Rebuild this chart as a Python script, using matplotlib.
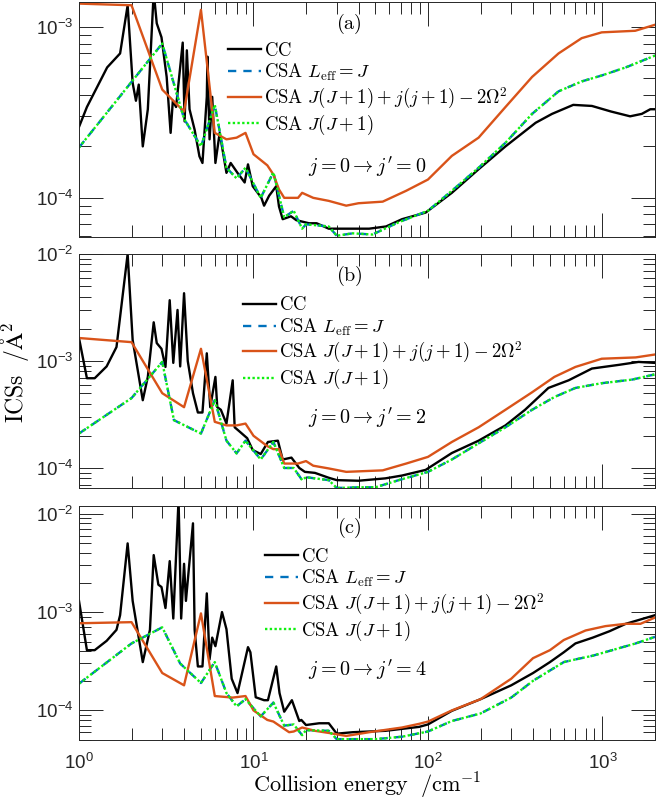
"""Three-panel log-log comparison of CC and CSA integral cross sections."""

import matplotlib

matplotlib.use("Agg")
import matplotlib.pyplot as plt
from matplotlib.font_manager import FontProperties
from matplotlib.ticker import LogLocator, LogFormatterSciNotation, NullFormatter

# ---- panel (a): j = 0 -> j' = 0 ----
cc_e_a = [1.0, 1.11, 1.45, 1.72, 1.9, 2.03, 2.12, 2.2, 2.32, 2.48, 2.68, 2.79, 2.97, 3.18,
          3.35, 3.45, 3.6, 3.93, 4.03, 4.15, 4.3, 4.6, 4.9, 5.1, 5.4, 5.45, 5.6, 5.8, 6.05,
          6.4, 7.0, 7.4, 8.1, 8.9, 9.3, 9.9, 11.1, 11.5, 12.3, 13.5, 14.0, 14.7, 16.4, 17.6,
          20.8, 23.0, 27, 34, 46, 57.5, 71, 97, 137, 195, 278, 414, 514, 680, 870, 1120,
          1440, 1680, 1880, 2000]
cc_a = [2.6e-4, 3.4e-4, 5.8e-4, 7.0e-4, 1.34e-3, 4.7e-4, 3.7e-4, 4.6e-4, 2.0e-4, 3.3e-4,
        1.6e-3, 1.05e-3, 8.7e-4, 5.1e-4, 2.4e-4, 3.7e-4, 3.4e-4, 8.1e-4, 2.8e-4, 7.3e-4,
        3.3e-4, 2.5e-4, 1.75e-4, 1.6e-4, 3.9e-4, 6.7e-4, 2.2e-4, 3.9e-4, 1.6e-4, 2.4e-4,
        1.4e-4, 1.6e-4, 1.4e-4, 1.23e-4, 1.57e-4, 1.17e-4, 1.0e-4, 9.0e-5, 1.03e-4, 1.17e-4,
        8.9e-5, 7.5e-5, 7.8e-5, 7.4e-5, 7.1e-5, 7.1e-5, 6.6e-5, 6.6e-5, 6.6e-5, 6.8e-5,
        7.5e-5, 8.2e-5, 1.07e-4, 1.47e-4, 2.0e-4, 2.75e-4, 3.1e-4, 3.5e-4, 3.45e-4, 3.2e-4,
        3.0e-4, 3.1e-4, 3.3e-4, 3.3e-4]
omega_e_a = [1, 2, 3, 4, 5, 6, 7, 8, 9, 10, 12, 13, 14, 15, 18, 19, 22, 27, 34, 40, 55, 75,
             100, 137, 195, 278, 395, 560, 760, 990, 1540, 2000]
omega_a = [1.37e-3, 1.34e-3, 4.3e-4, 3.2e-4, 1.26e-3, 2.4e-4, 2.2e-4, 2.25e-4, 2.4e-4, 1.8e-4,
           1.55e-4, 1.37e-4, 1.12e-4, 1.0e-4, 1.0e-4, 1.07e-4, 1.0e-4, 9.6e-5, 9.0e-5, 9.3e-5,
           9.5e-5, 1.1e-4, 1.28e-4, 1.76e-4, 2.25e-4, 3.4e-4, 5.1e-4, 7.0e-4, 8.6e-4, 9.3e-4,
           9.5e-4, 1.03e-3]
jj_e_a = [1, 3, 4, 5, 6, 7, 8, 9, 11, 13, 15, 17, 19, 20, 27, 30, 37, 48, 68, 100, 137, 195,
          278, 395, 560, 760, 990, 1360, 2000]
jj_a = [1.97e-4, 8.0e-4, 2.9e-4, 2.0e-4, 3.5e-4, 1.5e-4, 1.3e-4, 1.5e-4, 1.0e-4, 1.41e-4,
        7.7e-5, 8.4e-5, 6.6e-5, 7.0e-5, 6.8e-5, 6.0e-5, 6.2e-5, 6.1e-5, 7.2e-5, 8.4e-5,
        1.1e-4, 1.5e-4, 2.1e-4, 3.1e-4, 4.2e-4, 4.8e-4, 5.2e-4, 5.8e-4, 6.8e-4]
# CSA L_eff = J lies on top of CSA J(J+1) everywhere
leff_e_a, leff_a = jj_e_a, jj_a

# ---- panel (b): j = 0 -> j' = 2 ----
cc_e_b = [1.0, 1.11, 1.23, 1.44, 1.64, 1.9, 2.03, 2.32, 2.48, 2.68, 2.79, 2.97, 3.13, 3.31,
          3.47, 3.67, 3.8, 4.0, 4.2, 4.5, 4.8, 5.1, 5.4, 5.65, 6.05, 6.2, 6.5, 7.0, 7.6, 7.8,
          8.3, 9.2, 9.9, 11, 12.1, 13.8, 14.7, 16.5, 18.3, 19.7, 22.5, 27, 30, 40, 57, 71, 97,
          137, 195, 278, 360, 490, 640, 870, 1240, 1610, 2000]
cc_b = [1.64e-3, 6.9e-4, 6.9e-4, 8.9e-4, 1.35e-3, 1.0e-2, 1.57e-3, 4.3e-4, 7.1e-4, 2.3e-3,
        1.47e-3, 1.3e-3, 8.8e-4, 3.7e-3, 9.6e-4, 3.0e-3, 8.9e-4, 4.3e-3, 1.0e-3, 5.0e-4,
        3.3e-4, 3.3e-4, 1.18e-3, 3.7e-4, 7.1e-4, 3.7e-4, 3.5e-4, 2.6e-4, 6.6e-4, 2.4e-4,
        2.2e-4, 1.9e-4, 1.47e-4, 1.35e-4, 1.75e-4, 1.8e-4, 1.2e-4, 1.25e-4, 1.0e-4, 9.2e-5,
        9.0e-5, 8.1e-5, 7.7e-5, 7.6e-5, 8.0e-5, 8.5e-5, 9.6e-5, 1.38e-4, 1.8e-4, 2.5e-4,
        3.5e-4, 5.6e-4, 6.6e-4, 8.5e-4, 9.2e-4, 9.8e-4, 9.6e-4]
omega_e_b = [1, 2, 3, 4, 5, 6, 7, 8, 9, 10, 12, 13, 14, 15, 18, 20, 22, 27, 34, 55, 75, 100,
             137, 195, 278, 395, 530, 700, 990, 1550, 2000]
omega_b = [1.64e-3, 1.5e-3, 5.0e-4, 3.7e-4, 1.3e-3, 2.7e-4, 2.5e-4, 2.5e-4, 2.6e-4, 2.0e-4,
           1.6e-4, 1.5e-4, 1.5e-4, 1.1e-4, 1.1e-4, 1.16e-4, 1.05e-4, 9.9e-5, 9.2e-5, 9.5e-5,
           1.1e-4, 1.27e-4, 1.75e-4, 2.4e-4, 3.5e-4, 5.1e-4, 7.1e-4, 8.8e-4, 1.05e-3, 1.08e-3,
           1.15e-3]
jj_e_b = [1, 2, 3, 3.5, 5, 6, 7, 8, 9, 11, 13, 15, 17, 19, 20, 27, 30, 40, 50, 68, 100, 137,
          195, 278, 395, 530, 700, 990, 1480, 2000]
jj_b = [2.1e-4, 4.5e-4, 9.8e-4, 2.8e-4, 2.1e-4, 4.3e-4, 1.8e-4, 1.37e-4, 1.8e-4, 1.2e-4,
        1.75e-4, 1.0e-4, 1.0e-4, 7.7e-5, 8.2e-5, 7.7e-5, 6.5e-5, 6.6e-5, 6.6e-5, 7.7e-5,
        9.2e-5, 1.2e-4, 1.7e-4, 2.4e-4, 3.5e-4, 4.6e-4, 5.6e-4, 6.2e-4, 6.7e-4, 7.5e-4]
leff_e_b, leff_b = jj_e_b, jj_b

# ---- panel (c): j = 0 -> j' = 4 ----
cc_e_c = [1.0, 1.11, 1.23, 1.44, 1.64, 1.72, 1.9, 2.03, 2.32, 2.55, 2.68, 2.85, 2.97, 3.13,
          3.31, 3.47, 3.72, 3.85, 4.0, 4.1, 4.5, 4.6, 4.8, 5.1, 5.4, 5.6, 5.8, 6.05, 6.6, 7.0,
          7.5, 8.1, 9.3, 9.6, 10.3, 11.5, 12.1, 13.5, 14.1, 15, 16.6, 18.3, 18.8, 20, 23.8,
          27, 30, 37, 57, 89, 100, 137, 200, 300, 400, 500, 600, 700, 880, 1100, 1360, 2000]
cc_c = [1.3e-3, 4.1e-4, 4.1e-4, 5.1e-4, 6.6e-4, 9.3e-4, 5.0e-3, 1.3e-3, 3.1e-4, 6.6e-4,
        3.8e-3, 1.9e-3, 1.8e-3, 1.1e-3, 3.3e-3, 8.6e-4, 1.4e-2, 8.6e-4, 3.1e-3, 1.3e-3,
        8.0e-3, 6.6e-4, 2.8e-4, 2.8e-4, 1.55e-3, 3.3e-4, 5.5e-4, 4.5e-4, 1.0e-3, 6.7e-4,
        2.1e-4, 1.5e-4, 4.4e-4, 3.9e-4, 1.36e-4, 1.27e-4, 1.27e-4, 2.8e-4, 1.5e-4, 9.7e-5,
        1.27e-4, 7.8e-5, 8.0e-5, 7.1e-5, 7.4e-5, 7.4e-5, 5.8e-5, 6.0e-5, 6.2e-5, 6.8e-5,
        7.2e-5, 9.9e-5, 1.3e-4, 1.8e-4, 2.4e-4, 3.1e-4, 3.9e-4, 4.8e-4, 5.5e-4, 6.4e-4,
        7.6e-4, 9.3e-4]
omega_e_c = [1, 2, 3, 4, 5, 6, 7.6, 9, 10, 12, 13, 16, 17, 19, 22.5, 27, 34, 46, 71, 89, 100,
             137, 200, 300, 400, 500, 600, 800, 1040, 1360, 1650, 2000]
omega_c = [7.7e-4, 7.9e-4, 2.4e-4, 1.8e-4, 9.7e-4, 1.4e-4, 1.35e-4, 1.4e-4, 1.0e-4, 8.0e-5,
           7.7e-5, 6.0e-5, 6.1e-5, 6.7e-5, 6.2e-5, 5.9e-5, 5.5e-5, 6.0e-5, 6.7e-5, 7.3e-5,
           7.7e-5, 1.0e-4, 1.3e-4, 2.1e-4, 3.4e-4, 4.1e-4, 5.2e-4, 6.5e-4, 7.2e-4, 7.6e-4,
           7.6e-4, 8.8e-4]
jj_e_c = [1, 2, 3, 3.8, 5, 6, 7, 8, 9, 11, 13, 15, 17, 19, 20, 27, 30, 50, 71, 100, 137, 200,
          300, 400, 600, 700, 880, 1550, 2000]
jj_c = [1.87e-4, 4.8e-4, 7.0e-4, 3.0e-4, 1.9e-4, 3.1e-4, 1.5e-4, 1.1e-4, 1.3e-4, 8.7e-5,
        1.2e-4, 7.0e-5, 7.2e-5, 5.6e-5, 6.3e-5, 6.2e-5, 5.1e-5, 5.1e-5, 5.4e-5, 6.1e-5,
        7.8e-5, 9.3e-5, 1.35e-4, 2.0e-4, 3.1e-4, 3.3e-4, 3.6e-4, 4.8e-4, 5.6e-4]
leff_e_c, leff_c = jj_e_c, jj_c

panel_tags = [r"$(\mathrm{a})$", r"$(\mathrm{b})$", r"$(\mathrm{c})$"]
transitions = [r"$j=0\rightarrow j'=0$", r"$j=0\rightarrow j'=2$", r"$j=0\rightarrow j'=4$"]
legend_labels = [
    r"$\mathrm{CC}$",
    r"$\mathrm{CSA}\ L_{\mathrm{eff}}=J$",
    r"$\mathrm{CSA}\ J(J+1)+j(j+1)-2\Omega^2$",
    r"$\mathrm{CSA}\ J(J+1)$",
]
y_limits = [(5.9e-5, 1.4e-3), (6.5e-5, 1.0e-2), (5.0e-5, 1.2e-2)]

plt.rcParams["font.family"] = ["Liberation Sans", "DejaVu Sans"]
plt.rcParams["mathtext.fontset"] = "dejavusans"

AX_COL = "#262626"
ORANGE = "#D95319"
BLUE = "#0072BD"
GREEN = "#10F010"

fig = plt.figure(figsize=(6.56, 8.06), dpi=100)
left, width = 79 / 656, 576 / 656
bottoms = [1 - 237 / 806, 1 - 488 / 806, 1 - 740 / 806]
heights = [235 / 806, 234 / 806, 234 / 806]
legend_anchor = [(0.259, 0.628), (0.285, 0.616), (0.323, 0.618)]

series = [
    (cc_e_a, cc_a, leff_e_a, leff_a, omega_e_a, omega_a, jj_e_a, jj_a),
    (cc_e_b, cc_b, leff_e_b, leff_b, omega_e_b, omega_b, jj_e_b, jj_b),
    (cc_e_c, cc_c, leff_e_c, leff_c, omega_e_c, omega_c, jj_e_c, jj_c),
]

cm_legend = FontProperties(size=13.5, math_fontfamily="cm")
cm_text = FontProperties(size=14.5, math_fontfamily="cm")

axes = []
for i in range(3):
    ax = fig.add_axes([left, bottoms[i], width, heights[i]])
    axes.append(ax)
    cce, cc, le, lv, oe, ov, je, jv = series[i]
    h_cc, = ax.plot(cce, cc, color="black", lw=1.7)
    h_le, = ax.plot(le, lv, color=BLUE, lw=1.7, ls=(0, (3.5, 3)))
    h_om, = ax.plot(oe, ov, color=ORANGE, lw=1.7)
    h_jj, = ax.plot(je, jv, color=GREEN, lw=1.7, ls=(0, (1, 1)))

    ax.set_xscale("log")
    ax.set_yscale("log")
    ax.set_xlim(1, 2000)
    ax.set_ylim(*y_limits[i])

    ax.xaxis.set_major_locator(LogLocator(base=10, numticks=10))
    ax.xaxis.set_minor_locator(LogLocator(base=10, subs=range(2, 10), numticks=20))
    ax.yaxis.set_major_locator(LogLocator(base=10, numticks=10))
    ax.yaxis.set_minor_locator(LogLocator(base=10, subs=range(2, 10), numticks=20))
    ax.yaxis.set_major_formatter(LogFormatterSciNotation())
    ax.yaxis.set_minor_formatter(NullFormatter())
    ax.xaxis.set_minor_formatter(NullFormatter())
    if i < 2:
        ax.xaxis.set_major_formatter(NullFormatter())

    ax.tick_params(which="both", direction="in", top=True, right=True, color=AX_COL,
                   width=0.7, labelsize=13.5, labelcolor=AX_COL)
    ax.tick_params(which="major", length=17)
    ax.tick_params(which="minor", length=8.5)
    ax.tick_params(axis="x", pad=9)
    ax.tick_params(axis="y", pad=4)
    for sp in ax.spines.values():
        sp.set_color(AX_COL)
        sp.set_linewidth(0.7)

    ax.text(0.469, 0.906, panel_tags[i], transform=ax.transAxes, ha="center", va="center",
            fontproperties=cm_text)
    ax.text(0.398, 0.3, transitions[i], transform=ax.transAxes, ha="left", va="center",
            fontproperties=cm_text)

    ax.legend([h_cc, h_le, h_om, h_jj], legend_labels, loc="center left",
              bbox_to_anchor=legend_anchor[i], frameon=False, prop=cm_legend, borderpad=0,
              borderaxespad=0, handlelength=1.75, handletextpad=0.15, labelspacing=0.12)

axes[2].set_xlabel(r"$\mathrm{Collision\ energy}\ \ /\mathrm{cm}^{-1}$",
                   fontproperties=FontProperties(size=16, math_fontfamily="cm"), labelpad=-1)
fig.text(15 / 656, 1 - 372 / 806, r"$\mathrm{ICSs}\ \ /\mathrm{\AA}^2$", rotation=90,
         ha="center", va="center", fontproperties=FontProperties(size=17, math_fontfamily="cm"))

fig.savefig("out.png", dpi=100)
